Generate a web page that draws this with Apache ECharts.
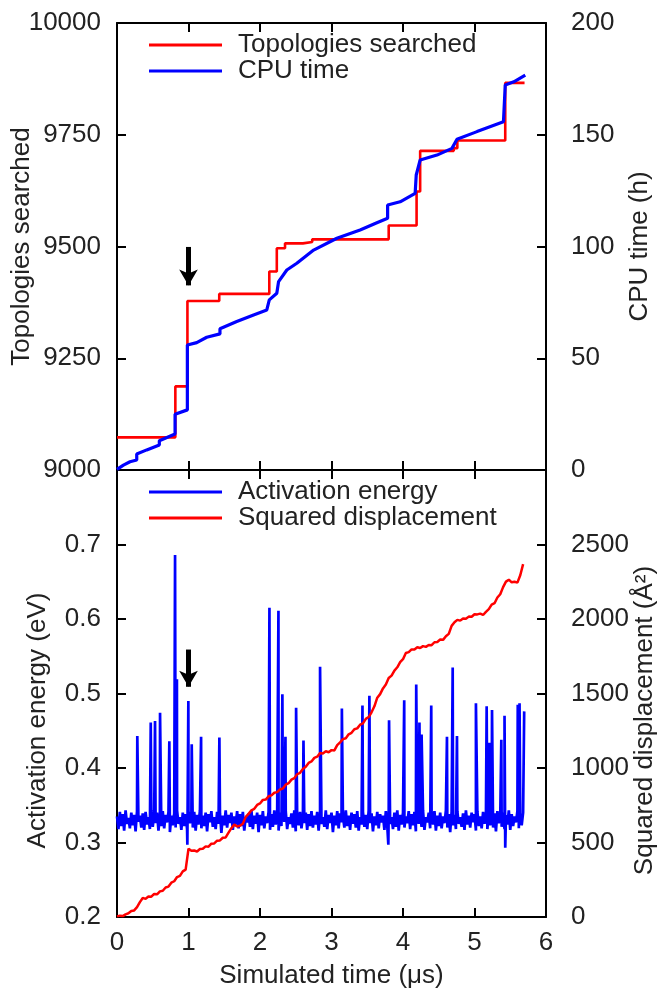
<!DOCTYPE html>
<html><head><meta charset="utf-8">
<script src="https://cdn.jsdelivr.net/npm/echarts@6/dist/echarts.min.js"></script>
<style>html,body{margin:0;padding:0;background:#fff}#c{width:660px;height:996px}</style>
</head><body><div id="c"></div>
<script>
// ---------- data ----------
// Topologies searched: [simulated time (us), count], held until next point
const topoSteps = [[0,9073],[0.816,9187],[0.985,9378],[1.43,9394],[2.13,9444],[2.235,9496],[2.35,9507],[2.6,9510],[2.73,9516],[3.80,9547],[4.19,9623],[4.24,9714],[4.71,9720],[4.76,9737],[5.43,9866],[5.70,9866]];
// CPU time: [simulated time (us), hours]
const cpuTime = [[0,0.3],[0.09,2.2],[0.182,3.7],[0.276,4.5],[0.276,7.2],[0.416,9.0],[0.592,11.2],[0.592,13.1],[0.812,16.1],[0.812,24.9],[0.984,26.9],[0.984,55.9],[1.115,57.0],[1.255,59.4],[1.44,60.9],[1.44,63.2],[1.675,66.4],[1.91,69.4],[2.095,71.6],[2.13,76.1],[2.235,79.1],[2.26,84.3],[2.375,89.5],[2.515,92.5],[2.75,98.4],[3.075,103.7],[3.40,107.4],[3.635,110.6],[3.785,112.6],[3.785,118.6],[3.96,120.0],[4.17,123.8],[4.185,132.0],[4.24,138.7],[4.475,140.9],[4.685,143.9],[4.755,148.0],[5.035,151.4],[5.405,155.8],[5.43,172.3],[5.55,173.7],[5.71,176.7]];
// Activation energy baseline (eV), one value every 0.02 us
const energyTimeStep = 0.02;
const energyBase = [
.335,.318,.341,.322,.338,.316,.343,.325,.333,.319,.340,.323,.337,.315,.342,.328,.336,.320,.339,.317,
.341,.324,.334,.318,.343,.321,.338,.326,.340,.316,.335,.322,.342,.319,.337,.327,.341,.314,.336,.323,
.339,.320,.343,.325,.334,.317,.340,.322,.338,.318,.342,.326,.335,.320,.341,.316,.337,.324,.343,.319,
.336,.322,.340,.315,.338,.327,.342,.321,.334,.318,.341,.325,.339,.313,.336,.323,.343,.320,.337,.326,
.340,.317,.335,.324,.342,.319,.338,.322,.341,.316,.334,.327,.339,.321,.343,.318,.336,.325,.340,.314,
.337,.323,.342,.319,.335,.326,.341,.317,.338,.321,.343,.324,.336,.316,.340,.322,.337,.328,.342,.318,
.334,.325,.339,.320,.343,.315,.337,.323,.341,.319,.335,.326,.340,.317,.338,.322,.342,.320,.336,.324,
.341,.316,.338,.325,.334,.321,.343,.318,.337,.326,.340,.314,.336,.323,.342,.319,.339,.327,.335,.320,
.343,.322,.336,.317,.340,.325,.338,.320,.342,.316,.334,.324,.341,.321,.337,.318,.343,.326,.339,.315,
.335,.323,.341,.319,.338,.327,.336,.317,.342,.322,.339,.325,.334,.318,.340,.321,.343,.316,.337,.324,
.340,.320,.335,.326,.342,.318,.338,.323,.341,.315,.336,.325,.339,.321,.343,.317,.334,.327,.340,.319,
.337,.324,.342,.316,.336,.322,.340,.319,.335,.326,.343,.320,.338,.314,.341,.323,.337,.318,.342,.325,
.334,.321,.339,.317,.343,.324,.336,.320,.340,.327,.338,.316,.342,.322,.335,.319,.341,.325,.337,.318,
.341,.323,.336,.320,.339,.315,.342,.326,.334,.321,.340,.318,.337,.324,.343,.317,.338,.322,.335,.327,
.342,.319,.338,.323,.340];
// Activation energy events (spikes and dips): [time (us), eV]
const energyEvents = [[0.284,0.443],[0.472,0.461],[0.532,0.463],[0.602,0.474],[0.732,0.436],[0.812,0.686],[0.838,0.519],[0.984,0.297],[0.998,0.490],[1.045,0.432],[1.176,0.442],[1.432,0.441],[2.132,0.615],[2.258,0.611],[2.313,0.499],[2.356,0.442],[2.505,0.481],[2.608,0.437],[2.840,0.536],[3.145,0.480],[3.433,0.484],[3.530,0.497],[3.795,0.297],[3.805,0.464],[4.017,0.491],[4.185,0.512],[4.230,0.461],[4.260,0.445],[4.395,0.484],[4.615,0.442],[4.695,0.535],[4.755,0.443],[5.020,0.487],[5.170,0.483],[5.210,0.434],[5.245,0.478],[5.375,0.438],[5.420,0.470],[5.430,0.293],[5.605,0.485],[5.630,0.487],[5.695,0.476]];
// Squared displacement (A^2), one value every 0.04 us
const dispTimeStep = 0.04;
const dispValues = [4,9,6,18,25,40,44,66,100,128,122,138,136,155,152,172,176,198,204,230,
240,268,276,306,318,458,444,446,440,456,458,474,472,492,494,512,514,532,534,566,
596,620,608,612,626,672,692,716,726,752,762,786,788,810,816,834,838,856,862,888,
898,922,932,958,968,994,1008,1034,1044,1068,1076,1100,1098,1112,1106,1120,1118,1154,1172,1194,
1200,1226,1236,1260,1266,1291,1300,1330,1342,1374,1414,1472,1496,1534,1560,1604,1620,1654,1676,1710,
1730,1772,1778,1796,1795,1810,1805,1818,1813,1826,1824,1844,1846,1862,1860,1884,1900,1954,1978,1994,
1989,2004,2001,2016,2015,2032,2031,2036,2027,2048,2066,2096,2106,2144,2166,2214,2251,2264,2246,2250,
2244,2294,2368];
// arrows (annotation, data units): x, start, end
const arrowTop = [1.0, 9499, 9413];
const arrowBottom = [1.0, 0.559, 0.509];

// ---------- build ----------
const energyData = energyBase.map((v, i) => [+(i * energyTimeStep).toFixed(3), v]).concat(energyEvents.map(e => e.slice()));
energyData.sort((a, b) => a[0] - b[0]);
const dispData = dispValues.map((v, i) => [+(i * dispTimeStep).toFixed(3), v]);

const FONT = 'Liberation Sans, Arial, Helvetica, sans-serif';
const TXT = '#222';
const FS = 26;
const lineS = {color: '#000', width: 2};
const tick = {show: true, inside: true, length: 9, lineStyle: {color: '#000', width: 2}};
const lab = {color: TXT, fontSize: FS, fontFamily: FONT, formatter: v => String(v)};
const nameStyle = {color: TXT, fontSize: FS, fontFamily: FONT};

function xAx(grid, pos, showLabel) {
  return {
    gridIndex: grid, type: 'value', position: pos, min: 0, max: 6, interval: 1,
    axisLine: {show: true, onZero: false, lineStyle: lineS}, axisTick: tick,
    axisLabel: Object.assign({}, lab, {show: showLabel, margin: 13}), splitLine: {show: false}
  };
}
function yAx(grid, pos, min, max, interval, extra) {
  return Object.assign({
    gridIndex: grid, type: 'value', position: pos, min: min, max: max, interval: interval,
    axisLine: {show: true, onZero: false, lineStyle: lineS}, axisTick: tick,
    axisLabel: Object.assign({}, lab, {margin: 16}), splitLine: {show: false},
    nameLocation: 'middle', nameMoveOverlap: false, nameTextStyle: nameStyle
  }, extra);
}

const chart = echarts.init(document.getElementById('c'), null, {renderer: 'canvas'});
const xb = xAx(1, 'bottom', true);
xb.name = 'Simulated time (μs)'; xb.nameLocation = 'middle'; xb.nameGap = 46; xb.nameMoveOverlap = false;
xb.nameTextStyle = nameStyle;

const arrowML = (a) => ({
  silent: true, symbol: ['none', 'arrow'], symbolSize: [14, 16], label: {show: false},
  lineStyle: {color: '#000', width: 5, type: 'solid'}, emphasis: {disabled: true},
  data: [[{coord: [a[0], a[1]]}, {coord: [a[0], a[2]]}]]
});

chart.setOption({
  animation: false,
  backgroundColor: '#fff',
  grid: [
    {left: 117, top: 23, width: 429, height: 447, containLabel: false, outerBoundsMode: 'none'},
    {left: 117, top: 470, width: 429, height: 447, containLabel: false, outerBoundsMode: 'none'}
  ],
  legend: [
    {left: 149, top: 32, orient: 'vertical', padding: 0, itemGap: 0, itemWidth: 73, itemHeight: 3, icon: 'rect',
     textStyle: {color: TXT, fontSize: FS, fontFamily: FONT, lineHeight: 25, padding: [0, 0, 0, 11]},
     data: ['Topologies searched', 'CPU time'], selectedMode: false},
    {left: 149, top: 479, orient: 'vertical', padding: 0, itemGap: 0, itemWidth: 73, itemHeight: 3, icon: 'rect',
     textStyle: {color: TXT, fontSize: FS, fontFamily: FONT, lineHeight: 25, padding: [0, 0, 0, 11]},
     data: ['Activation energy', 'Squared displacement'], selectedMode: false}
  ],
  xAxis: [xAx(0, 'bottom', false), xAx(0, 'top', false), xb, xAx(1, 'top', false)],
  yAxis: [
    yAx(0, 'left', 9000, 10000, 250, {name: 'Topologies searched', nameGap: 82}),
    yAx(0, 'right', 0, 200, 50, {name: 'CPU time (h)', nameGap: 81, axisLabel: Object.assign({}, lab, {margin: 25})}),
    yAx(1, 'left', 0.2, 0.8, 0.1, {name: 'Activation energy (eV)', nameGap: 66,
      nameTextStyle: Object.assign({}, nameStyle, {padding: [0, 54, 0, 0]}),
      axisLabel: Object.assign({}, lab, {margin: 16, showMaxLabel: false, formatter: v => v.toFixed(1)})}),
    yAx(1, 'right', 0, 3000, 500, {name: 'Squared displacement (Å²)', nameGap: 86,
      nameTextStyle: Object.assign({}, nameStyle, {padding: [0, 54, 0, 0]}),
      axisLabel: Object.assign({}, lab, {margin: 25, showMaxLabel: false})})
  ],
  series: [
    {name: 'Topologies searched', type: 'line', xAxisIndex: 0, yAxisIndex: 0, step: 'end', data: topoSteps,
     showSymbol: false, color: '#ff0000', lineStyle: {width: 2.6, color: '#ff0000'}, z: 2,
     markLine: arrowML(arrowTop)},
    {name: 'CPU time', type: 'line', xAxisIndex: 0, yAxisIndex: 1, data: cpuTime,
     showSymbol: false, color: '#0000ff', lineStyle: {width: 3.2, color: '#0000ff'}, z: 3},
    {name: 'Activation energy', type: 'line', xAxisIndex: 2, yAxisIndex: 2, data: energyData,
     showSymbol: false, sampling: null, color: '#0000ff', lineStyle: {width: 2.7, color: '#0000ff', join: 'bevel'}, z: 2,
     markLine: arrowML(arrowBottom)},
    {name: 'Squared displacement', type: 'line', xAxisIndex: 2, yAxisIndex: 3, data: dispData,
     showSymbol: false, color: '#ff0000', lineStyle: {width: 2.5, color: '#ff0000', join: 'bevel'}, z: 3}
  ]
});
</script></body></html>
